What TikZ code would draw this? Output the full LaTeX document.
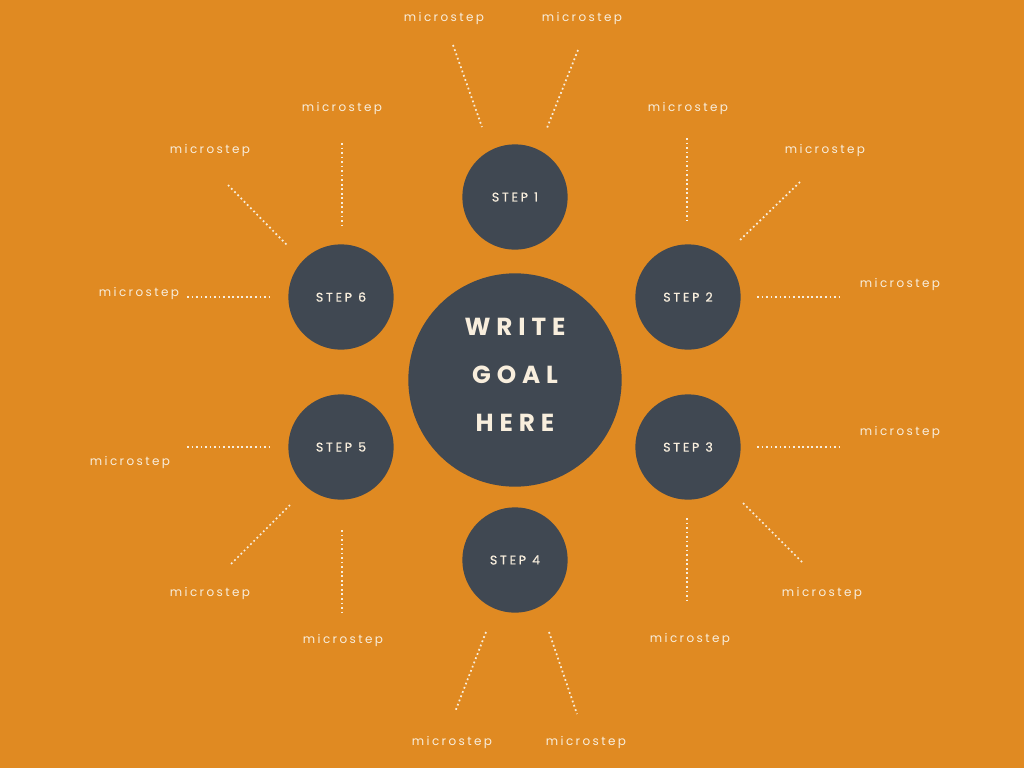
\documentclass[tikz,border=0pt]{standalone}
\usepackage{fontspec}
\setmainfont{Poppins}
\newfontfamily\goalfont[LetterSpace=24]{Poppins}
\newfontfamily\stepfont[LetterSpace=22, FakeBold=0.6]{Poppins}
\newfontfamily\microfont[LetterSpace=20]{Poppins}
\definecolor{bgorange}{HTML}{E08A22}
\definecolor{slate}{HTML}{404852}
\definecolor{cream}{HTML}{F8EEDD}
\tikzset{
  goalnode/.style={circle, fill=slate, minimum size=160pt, inner sep=0pt},
  goaltext/.style={text=cream, align=center, inner sep=0pt,
    font=\goalfont\bfseries\fontsize{18.5}{36}\selectfont},
  stepnode/.style={circle, fill=slate, minimum size=79pt, inner sep=0pt,
    text=cream, font=\stepfont\fontsize{9.4}{11}\selectfont},
  micro/.style={text=cream, inner sep=0pt, yshift=-1.5pt,
    font=\microfont\fontsize{9}{10}\selectfont},
  dotline/.style={cream, line width=1.3pt, dash pattern=on 1.3pt off 2.1pt}
}
\begin{document}
\begin{tikzpicture}[x=0.75pt, y=-0.75pt]
    % Background
    \fill[bgorange] (0,0) rectangle (1024,768);

    % Goal in the middle
    \node[goalnode] (goal) at (515,380) {};
    \node[goaltext] (goallabel) at ([yshift=3.5pt]goal.center) {WRITE\\GOAL\\HERE};

    % Steps around the goal
    \foreach \name/\px/\py/\num in {s1/515/197/1, s2/688/297/2, s3/688/447/3,
        s4/515/560/4, s5/341/447/5, s6/341/297/6} {
        \node[stepnode] (\name) at (\px,\py) {STEP \num};
    }

    % Microsteps with dotted leaders
    \foreach \id/\lx/\ly/\ax/\ay/\bx/\by in {
        1a/444/16/453/45/482/127, 1b/582/16/578/50/547/128,
        2a/688/106/687/138/687/222, 2b/825/148/800/182/740/240, 2c/900/282/757/297/843/297,
        3a/900/430/757/447/843/447, 3b/822/591/802/562/742/502, 3c/690/637/687/518/687/603,
        4a/452/740/486/632/455/712, 4b/586/740/549/632/577/714,
        5a/130/460/187/447/272/447, 5b/210/591/290/505/230/565, 5c/343/638/342/530/342/614,
        6a/139/291/187/297/272/297, 6b/210/148/228/185/287/245, 6c/342/106/342/143/342/228} {
        \node[micro] (m\id) at (\lx,\ly) {microstep};
        \coordinate (p\id) at (\ax,\ay);
        \coordinate (q\id) at (\bx,\by);
        \draw[dotline] (p\id) -- (q\id);
    }
\end{tikzpicture}
\end{document}
